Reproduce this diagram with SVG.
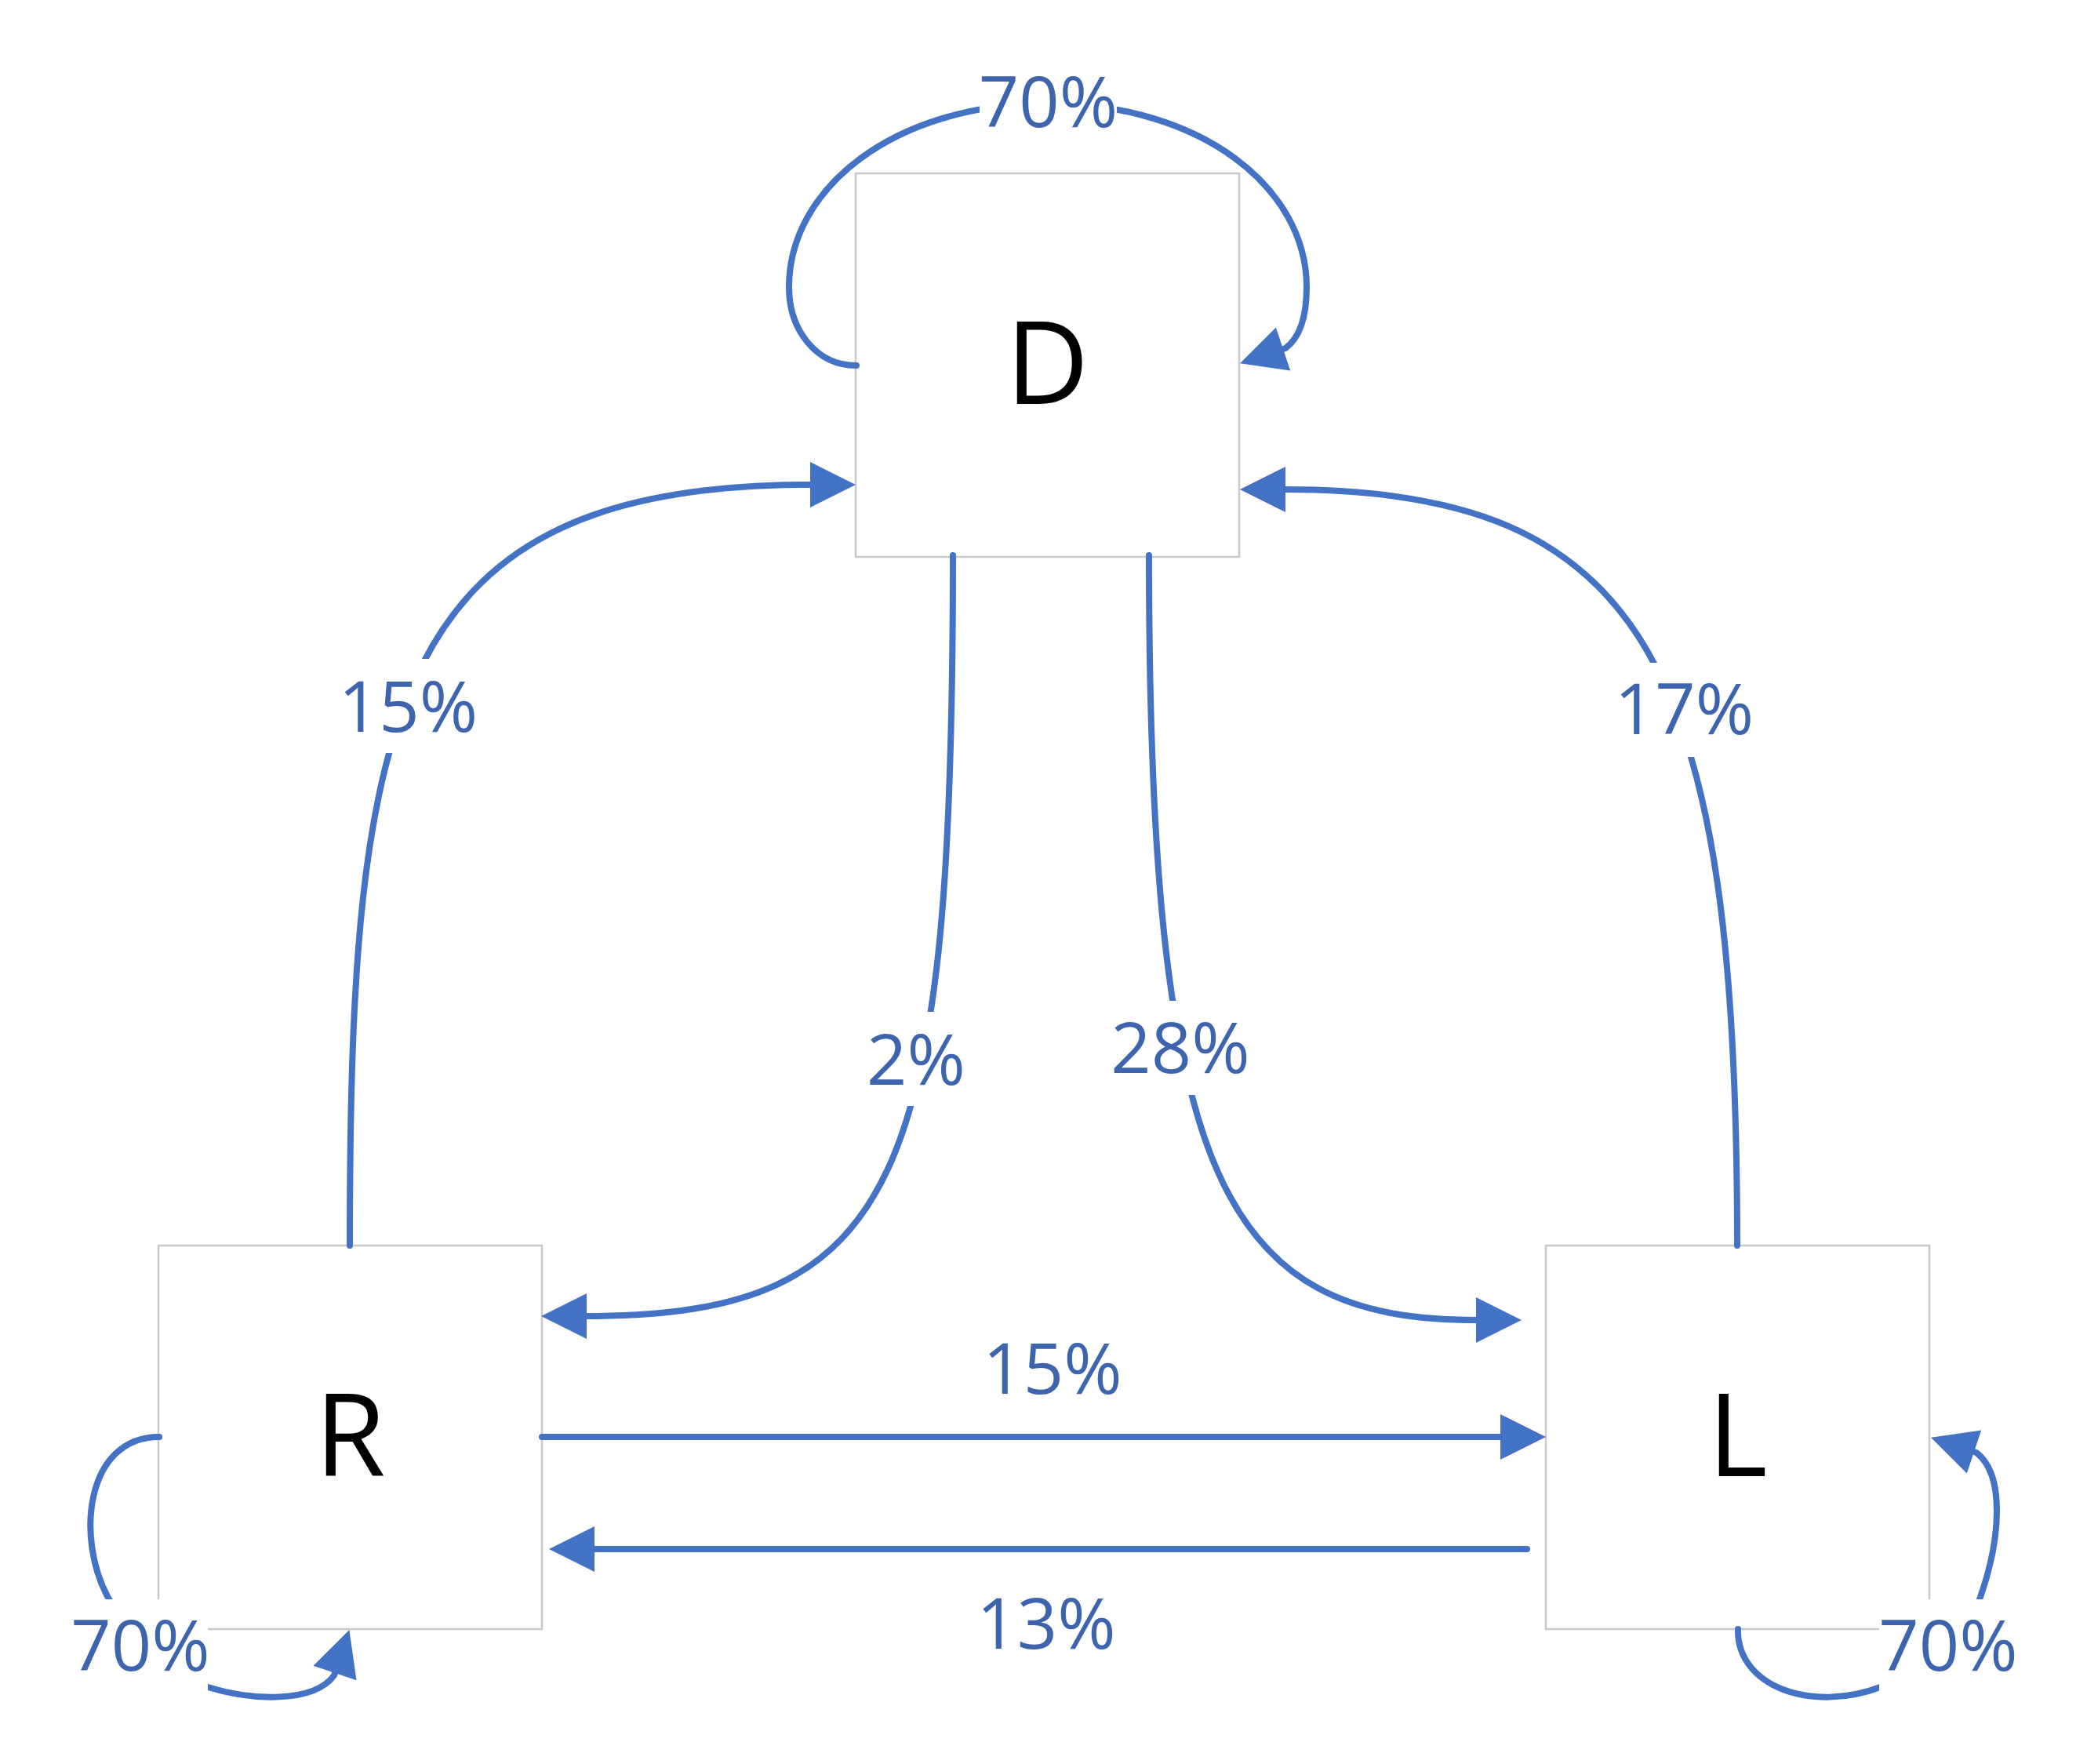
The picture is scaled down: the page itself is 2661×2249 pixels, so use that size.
<svg xmlns="http://www.w3.org/2000/svg" width="2661" height="2249" viewBox="0 0 2661 2249">
  <style>
    .box { fill: #ffffff; stroke: #c9c9c9; stroke-width: 2.5; }
    .node-label { font-family: "Open Sans", "Noto Sans", "Liberation Sans", sans-serif; font-size: 146px; fill: #000000; text-anchor: middle; }
    .conn { fill: none; stroke: #4472C4; stroke-width: 8; stroke-linecap: round; stroke-linejoin: round; }
    .arrow { marker-end: url(#arrowhead); }
    .lbl-bg { fill: #ffffff; stroke: none; }
    .lbl { font-family: "Open Sans", "Noto Sans", "Liberation Sans", sans-serif; font-size: 90px; fill: #3F64AE; text-anchor: middle; }
  </style>
  <defs>
    <marker id="arrowhead" markerUnits="userSpaceOnUse" markerWidth="58" markerHeight="58" refX="0" refY="29" orient="auto" overflow="visible">
      <path d="M0,0 L58,29 L0,58 Z" fill="#4472C4"/>
    </marker>
  </defs>
  <rect x="0" y="0" width="2661" height="2249" fill="#ffffff"/>

  <g id="nodes">
    <g id="node-D">
      <rect class="box" x="1091" y="221" width="489" height="489"/>
      <text class="node-label" x="1335.5" y="515">D</text>
    </g>
    <g id="node-R">
      <rect class="box" x="202" y="1588" width="489" height="489"/>
      <text class="node-label" x="446.5" y="1882">R</text>
    </g>
    <g id="node-L">
      <rect class="box" x="1971" y="1588" width="489" height="489"/>
      <text class="node-label" x="2215.5" y="1882">L</text>
    </g>
  </g>

  <g id="connectors">
    <g id="edge-D-D">
      <path class="conn arrow" d="M 1092 466 C 1040 466, 1006 420, 1006 366 C 1006 240, 1140 132, 1336 132 C 1532 132, 1666 240, 1666 366 C 1666 402, 1658 430, 1639 444 l -3 1"/>
      <rect class="lbl-bg" x="1249" y="70" width="175" height="120"/>
      <text class="lbl" x="1336.5" y="162">70%</text>
    </g>
    <g id="edge-R-D">
      <path class="conn arrow" d="M 446 1588 C 446 900, 500 618, 1033 618"/>
      <rect class="lbl-bg" x="436" y="840" width="170" height="120"/>
      <text class="lbl" x="520.5" y="933">15%</text>
    </g>
    <g id="edge-L-D">
      <path class="conn arrow" d="M 2215 1588 C 2215 850, 2100 624, 1639 624"/>
      <rect class="lbl-bg" x="2062" y="845" width="172" height="120"/>
      <text class="lbl" x="2147.5" y="936">17%</text>
    </g>
    <g id="edge-D-R">
      <path class="conn arrow" d="M 1215 708 C 1215 1500, 1150 1678, 748 1678"/>
      <rect class="lbl-bg" x="1106" y="1290" width="124" height="120"/>
      <text class="lbl" x="1168" y="1383">2%</text>
    </g>
    <g id="edge-D-L">
      <path class="conn arrow" d="M 1465 708 C 1465 1504, 1560 1683, 1882 1683"/>
      <rect class="lbl-bg" x="1417" y="1276" width="176" height="120"/>
      <text class="lbl" x="1505" y="1368">28%</text>
    </g>
    <g id="edge-R-L">
      <path class="conn arrow" d="M 691 1832 L 1913 1832"/>
      <text class="lbl" x="1342" y="1777">15%</text>
    </g>
    <g id="edge-L-R">
      <path class="conn arrow" d="M 1947 1975 L 758 1975"/>
      <text class="lbl" x="1334" y="2102">13%</text>
    </g>
    <g id="edge-R-R">
      <path class="conn arrow" d="M 203 1832 C 110 1832, 95 1960, 139 2039 C 170 2095, 215 2140, 265 2151 C 320 2168, 400 2172, 426 2136 l 1 -3"/>
      <rect class="lbl-bg" x="93" y="2039" width="172" height="118"/>
      <text class="lbl" x="179" y="2130">70%</text>
    </g>
    <g id="edge-L-L">
      <path class="conn arrow" d="M 2216 2077 C 2214 2150, 2310 2185, 2400 2150 C 2460 2128, 2506 2090, 2524 2039 C 2552 1960, 2556 1880, 2520 1852 l -3 -1"/>
      <rect class="lbl-bg" x="2396" y="2039" width="176" height="118"/>
      <text class="lbl" x="2484" y="2130">70%</text>
    </g>
  </g>
</svg>
